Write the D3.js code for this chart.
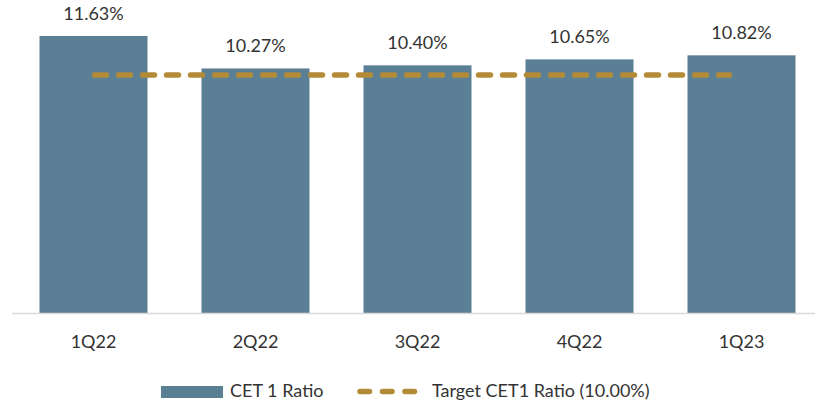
<!DOCTYPE html>
<html>
<head>
<meta charset="utf-8">
<script src="https://cdn.jsdelivr.net/npm/d3@7"></script>
<style>
  html, body { margin: 0; padding: 0; background: #fff; }
  svg { display: block; font-family: Lato, "Open Sans", sans-serif; font-weight: 400; }
</style>
</head>
<body>
<svg id="chart" width="815" height="401"></svg>
<script>
const categories = ["1Q22", "2Q22", "3Q22", "4Q22", "1Q23"];
const cet1Values = [11.63, 10.27, 10.40, 10.65, 10.82];
const targetValue = 10.00;
const seriesNames = ["CET 1 Ratio", "Target CET1 Ratio (10.00%)"];

const barColor = "#5B7F95";
const goldColor = "#B38A36";
const textColor = "#333333";

const svg = d3.select("#chart");
const baseline = 313.5;

const x = d3.scaleBand()
  .domain(categories)
  .range([12.5, 822.5])
  .paddingInner((162 - 108) / 162)
  .paddingOuter((162 - 108) / 162 / 2);

const y = d3.scaleLinear()
  .domain([0, 11.63])
  .range([baseline, 36]);

const data = categories.map((c, i) => ({ c, v: cet1Values[i] }));

// bars
svg.append("g").selectAll("rect")
  .data(data)
  .join("rect")
  .attr("x", d => x(d.c))
  .attr("y", d => y(d.v))
  .attr("width", x.bandwidth())
  .attr("height", d => baseline - y(d.v))
  .attr("fill", barColor);

// axis line
svg.append("line")
  .attr("x1", 12).attr("x2", 815)
  .attr("y1", baseline).attr("y2", baseline)
  .attr("stroke", "#D9D9D9").attr("stroke-width", 1.5);

// value labels
svg.append("g").selectAll("text")
  .data(data)
  .join("text")
  .attr("x", d => x(d.c) + x.bandwidth() / 2)
  .attr("y", d => y(d.v) - 16)
  .attr("text-anchor", "middle")
  .attr("font-size", 18)
  .attr("fill", textColor)
  .text(d => d.v.toFixed(2) + "%");

// target line
const cx = c => x(c) + x.bandwidth() / 2;
svg.append("line")
  .attr("x1", cx(categories[0]) + 1)
  .attr("x2", cx(categories[categories.length - 1]) - 12)
  .attr("y1", y(targetValue)).attr("y2", y(targetValue))
  .attr("stroke", goldColor)
  .attr("stroke-width", 5.5)
  .attr("stroke-linecap", "round")
  .attr("stroke-dasharray", "12,12");

// category labels
svg.append("g").selectAll("text")
  .data(categories)
  .join("text")
  .attr("x", d => cx(d))
  .attr("y", 348)
  .attr("text-anchor", "middle")
  .attr("font-size", 18)
  .attr("fill", textColor)
  .text(d => d);

// legend
const lg = svg.append("g");
lg.append("rect")
  .attr("x", 161).attr("y", 386)
  .attr("width", 62).attr("height", 12)
  .attr("fill", barColor);
lg.append("text")
  .attr("x", 230).attr("y", 397)
  .attr("font-size", 18).attr("fill", textColor)
  .text(seriesNames[0]);
lg.append("line")
  .attr("x1", 360).attr("x2", 416)
  .attr("y1", 391.5).attr("y2", 391.5)
  .attr("stroke", goldColor)
  .attr("stroke-width", 5.5)
  .attr("stroke-linecap", "round")
  .attr("stroke-dasharray", "9.5,13");
lg.append("text")
  .attr("x", 432).attr("y", 397)
  .attr("font-size", 18).attr("fill", textColor)
  .text(seriesNames[1]);
</script>
</body>
</html>
